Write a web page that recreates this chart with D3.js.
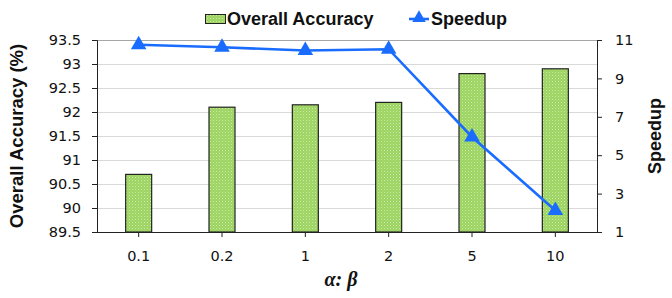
<!DOCTYPE html>
<html><head><meta charset="utf-8">
<script src="https://cdn.jsdelivr.net/npm/d3@7/dist/d3.min.js"></script>
<style>body{margin:0;background:#fff}svg{display:block}</style>
</head><body><svg id="c" width="672" height="298"></svg>
<script>
const categories = ["0.1","0.2","1","2","5","10"];
const accuracy = [90.7, 92.1, 92.15, 92.2, 92.8, 92.9];
const speedup = [10.75, 10.62, 10.45, 10.52, 5.95, 2.12];
const leftTicks = [89.5,90,90.5,91,91.5,92,92.5,93,93.5];
const rightTicks = [1,3,5,7,9,11];

const svg = d3.select("#c");
const L=97, R=597, T=40, B=232;
const x = d3.scaleBand().domain(categories).range([L,R]);
const yL = d3.scaleLinear().domain([89.5,93.5]).range([B,T]);
const yR = d3.scaleLinear().domain([1,11]).range([B,T]);
const tickFont = "'DejaVu Sans', sans-serif";

const defs = svg.append("defs");
const pat = defs.append("pattern").attr("id","dots").attr("patternUnits","userSpaceOnUse").attr("width",3).attr("height",3);
pat.append("rect").attr("width",3).attr("height",3).attr("fill","#9cd462");
pat.append("rect").attr("x",0).attr("y",0).attr("width",1).attr("height",1).attr("fill","#cfeaa8");
pat.append("rect").attr("x",1.5).attr("y",1.5).attr("width",1).attr("height",1).attr("fill","#b8e088");

// gridlines
svg.append("g").selectAll("line").data(leftTicks.slice(1)).join("line")
  .attr("x1",L).attr("x2",R).attr("y1",d=>Math.round(yL(d))+0.5).attr("y2",d=>Math.round(yL(d))+0.5)
  .attr("stroke",d=>d===93.5?"#a6a6a6":"#d9d9d9").attr("stroke-width",1);

// bars
const bw = 26;
svg.append("g").selectAll("rect").data(accuracy).join("rect")
  .attr("x",(d,i)=>x(categories[i])+x.bandwidth()/2-bw/2)
  .attr("y",d=>yL(d)).attr("width",bw).attr("height",d=>B-yL(d))
  .attr("fill","url(#dots)").attr("stroke","#222").attr("stroke-width",1.2);

// axes
const gL = svg.append("g").attr("transform",`translate(${L},0)`)
  .call(d3.axisLeft(yL).tickValues(leftTicks).tickFormat(d=>d3.format("")(d)).tickSize(5).tickPadding(11));
const gR = svg.append("g").attr("transform",`translate(${R},0)`)
  .call(d3.axisRight(yR).tickValues(rightTicks).tickSize(5).tickPadding(13));
const gB = svg.append("g").attr("transform",`translate(0,${B})`)
  .call(d3.axisBottom(x).tickSize(5).tickPadding(14));
[gL,gR,gB].forEach(g=>{
  g.select(".domain").attr("stroke","#222").attr("stroke-width",1);
  g.selectAll(".tick line").attr("stroke","#222");
  g.selectAll("text").attr("font-family",tickFont).attr("font-size",14.5).attr("fill","#111");
});
gL.select(".domain").attr("d",`M-5,${T}.5H0.5V${B}.5H-5`);
gR.select(".domain").attr("d",`M5,${T}.5H0.5V${B}.5H5`);
gB.select(".domain").attr("d",`M${L},0.5H${R}`);

// speedup line
const line = d3.line().x((d,i)=>x(categories[i])+x.bandwidth()/2).y(d=>yR(d));
svg.append("path").datum(speedup).attr("d",line).attr("fill","none").attr("stroke","#1a6cff").attr("stroke-width",2.6);
const tri = d3.symbol().type(d3.symbolTriangle).size(105);
svg.append("g").selectAll("path").data(speedup).join("path")
  .attr("transform",(d,i)=>`translate(${x(categories[i])+x.bandwidth()/2},${yR(d)})`)
  .attr("d",tri).attr("fill","#1a6cff");

// axis titles
svg.append("text").attr("transform",`translate(23,${(T+B)/2}) rotate(-90)`).attr("text-anchor","middle")
  .attr("font-family","'Liberation Sans', Arial, sans-serif").attr("font-weight","bold").attr("font-size",18.5).attr("fill","#111")
  .text("Overall Accuracy (%)");
svg.append("text").attr("transform",`translate(661,${(T+B)/2}) rotate(-90)`).attr("text-anchor","middle")
  .attr("font-family","'Liberation Sans', Arial, sans-serif").attr("font-weight","bold").attr("font-size",18).attr("fill","#111")
  .text("Speedup");
svg.append("text").attr("x",341).attr("y",286).attr("text-anchor","middle")
  .attr("font-family","'Liberation Serif', serif").attr("font-weight","bold").attr("font-style","italic").attr("font-size",20).attr("fill","#111")
  .text("α: β");

// legend
const lg = svg.append("g");
lg.append("rect").attr("x",205.5).attr("y",14.5).attr("width",20).attr("height",9).attr("fill","url(#dots)").attr("stroke","#222").attr("stroke-width",1);
lg.append("text").attr("x",227).attr("y",25).attr("font-family","'Liberation Sans', Arial, sans-serif").attr("font-weight","bold").attr("font-size",18).attr("fill","#111").text("Overall Accuracy");
lg.append("line").attr("x1",409).attr("x2",429).attr("y1",19).attr("y2",19).attr("stroke","#1a6cff").attr("stroke-width",2.6);
lg.append("path").attr("transform","translate(419,18)").attr("d",d3.symbol().type(d3.symbolTriangle).size(80)).attr("fill","#1a6cff");
lg.append("text").attr("x",431).attr("y",25).attr("font-family","'Liberation Sans', Arial, sans-serif").attr("font-weight","bold").attr("font-size",18).attr("fill","#111").text("Speedup");
</script></body></html>
